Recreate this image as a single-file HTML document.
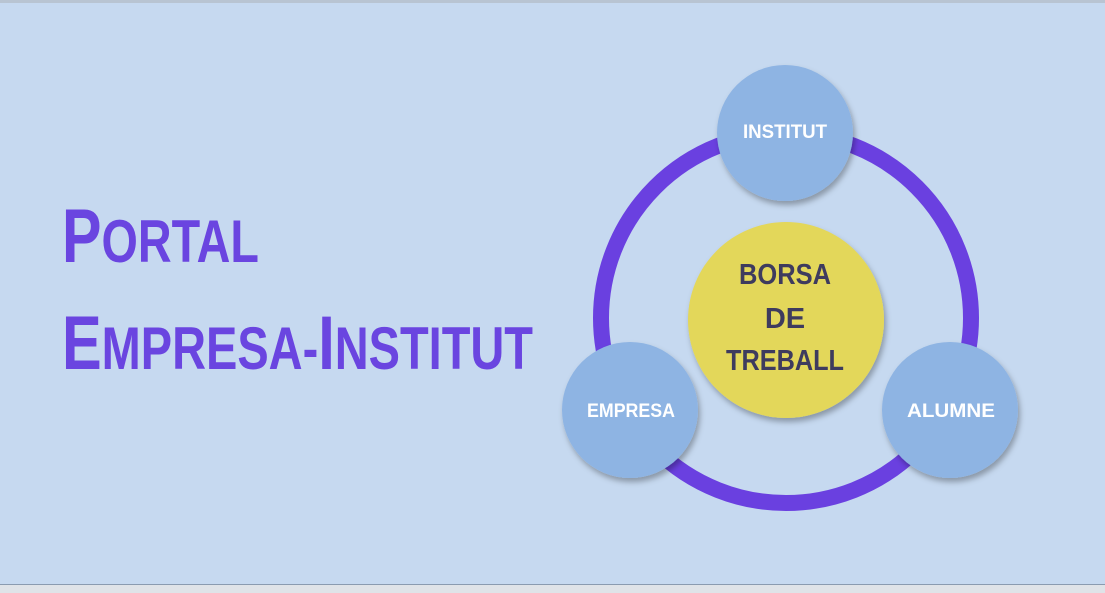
<!DOCTYPE html>
<html><head><meta charset="utf-8"><style>
html,body{margin:0;padding:0;}
body{width:1105px;height:593px;overflow:hidden;background:#c6d9f0;position:relative;font-family:"Liberation Sans",sans-serif;}
</style></head><body>
<svg width="1105" height="593" style="position:absolute;left:0;top:0">
<defs>
<filter id="sh" x="-30%" y="-30%" width="160%" height="160%"><feDropShadow dx="2" dy="4" stdDeviation="3" flood-color="#000" flood-opacity="0.3"/></filter>
</defs>
<rect x="0" y="0" width="1105" height="3" fill="#b8c4d2"/>
<rect x="0" y="584" width="1105" height="9" fill="#dfe3e8"/>
<line x1="0" y1="584.5" x2="1105" y2="584.5" stroke="#8a9bb0"/>
<circle cx="786" cy="318" r="185" fill="none" stroke="#6a40e0" stroke-width="16"/>
<circle cx="786" cy="320" r="98" fill="#e3d75a" filter="url(#sh)"/>
<circle cx="785" cy="133" r="68" fill="#8eb4e3" filter="url(#sh)"/>
<circle cx="630" cy="410" r="68" fill="#8eb4e3" filter="url(#sh)"/>
<circle cx="950" cy="410" r="68" fill="#8eb4e3" filter="url(#sh)"/>
<g font-family="Liberation Sans, sans-serif" font-weight="bold" fill="#fff" font-size="19" text-anchor="middle">
<text x="785" y="138" textLength="84" lengthAdjust="spacingAndGlyphs">INSTITUT</text>
<text x="631" y="417" textLength="88" lengthAdjust="spacingAndGlyphs">EMPRESA</text>
<text x="951" y="417" textLength="88" lengthAdjust="spacingAndGlyphs">ALUMNE</text>
</g>
<g font-family="Liberation Sans, sans-serif" font-weight="bold" fill="#3e3b5e" font-size="29" text-anchor="middle">
<text x="785" y="284" textLength="92" lengthAdjust="spacingAndGlyphs">BORSA</text>
<text x="785" y="328">DE</text>
<text x="785" y="370" textLength="118" lengthAdjust="spacingAndGlyphs">TREBALL</text>
</g>
<g font-family="Liberation Sans, sans-serif" font-weight="bold" fill="#6a45e0">
<text x="62" y="262" textLength="197" lengthAdjust="spacingAndGlyphs"><tspan font-size="76">P</tspan><tspan font-size="60">ORTAL</tspan></text>
<text x="62" y="369" textLength="471" lengthAdjust="spacingAndGlyphs"><tspan font-size="76">E</tspan><tspan font-size="60">MPRESA-</tspan><tspan font-size="76">I</tspan><tspan font-size="60">NSTITUT</tspan></text>
</g>
</svg>
</body></html>
